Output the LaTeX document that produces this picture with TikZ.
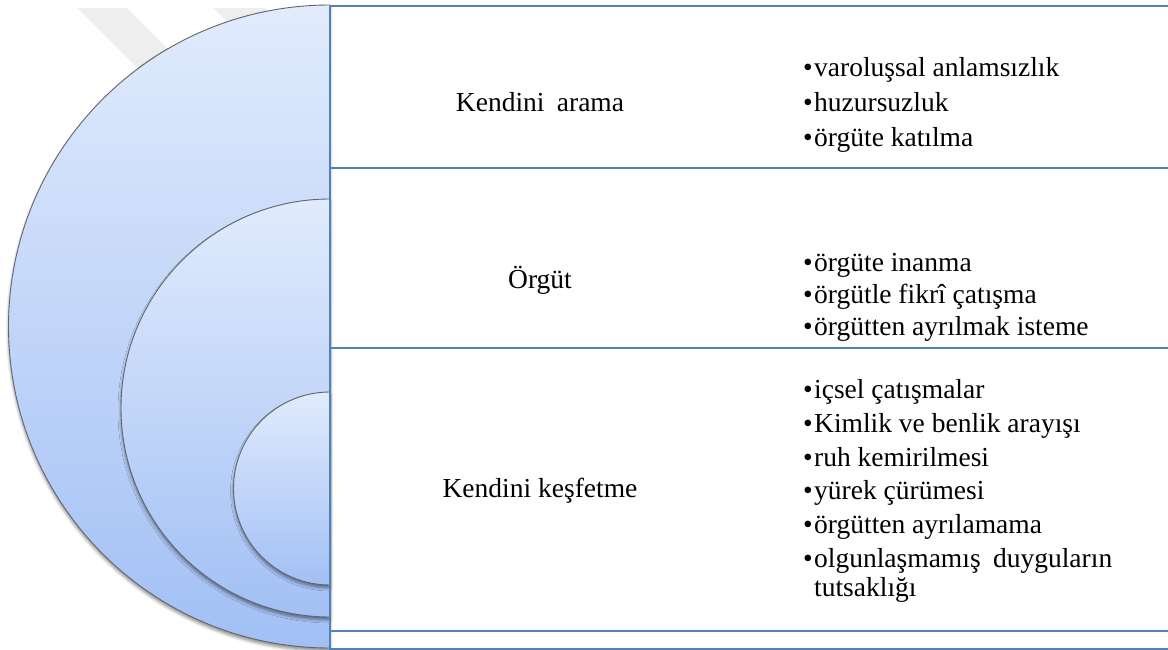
\documentclass[tikz,border=0pt]{standalone}
\usepackage{fontspec}
\setmainfont{Liberation Serif}
\usetikzlibrary{shadows.blur}

\definecolor{frameblue}{RGB}{79,129,189}
\definecolor{ringtop}{RGB}{225,235,252}
\definecolor{ringbot}{RGB}{162,192,245}
\definecolor{ringedge}{RGB}{100,100,105}
\definecolor{markgray}{RGB}{238,238,238}

\newcommand\blt{\makebox[11pt][l]{•}}

\begin{document}
\begin{tikzpicture}[x=1pt,y=-1pt,
  ring/.style={top color=ringtop, bottom color=ringbot, draw=ringedge, line width=0.9pt,
    blur shadow={shadow xshift=0pt, shadow yshift=-3pt, shadow blur radius=3pt, shadow opacity=45}},
  rule/.style={draw=frameblue, line width=1.6pt},
  title/.style={font=\fontsize{27.5}{33}\selectfont, inner sep=0pt, anchor=base},
  item/.style={font=\fontsize{27.5}{33}\selectfont, inner sep=0pt, anchor=base west},
]
\useasboundingbox (0,0) rectangle (1168,650);

% faint background marks
\fill[markgray] (77,8) -- (127,8) -- (230,111) -- (180,111) -- cycle;
\fill[markgray] (213,8) -- (265,8) -- (330,73) -- (278,73) -- cycle;

% nested half discs
\path[ring] (330,5) arc[start angle=90, end angle=270, radius=321.5pt] -- cycle;
\path[ring] (330,199) arc[start angle=90, end angle=270, radius=209pt] -- cycle;
\path[ring] (330,392) arc[start angle=90, end angle=270, radius=96.5pt] -- cycle;

% table rules
\draw[rule] (330,6) -- (330,650);
\draw[rule] (330,6) -- (1168,6);
\draw[rule] (330,168) -- (1168,168);
\draw[rule] (330,348) -- (1168,348);
\draw[rule] (330,631) -- (1168,631);
\draw[rule] (330,649) -- (1168,649);

% row titles
\node[title] (t1) at (540,112) {Kendini\hspace{0.45em}arama};
\node[title] (t2) at (540,288) {Örgüt};
\node[title] (t3) at (540,497) {Kendini keşfetme};

% first row items
\node[item] (a1) at (803,77) {\blt varoluşsal anlamsızlık};
\node[item] (a2) at (803,112) {\blt huzursuzluk};
\node[item] (a3) at (803,147) {\blt örgüte katılma};

% second row items
\node[item] (b1) at (803,271) {\blt örgüte inanma};
\node[item] (b2) at (803,303) {\blt örgütle fikrî çatışma};
\node[item] (b3) at (803,335) {\blt örgütten ayrılmak isteme};

% third row items
\node[item] (c1) at (803,398) {\blt içsel çatışmalar};
\node[item] (c2) at (803,432) {\blt Kimlik ve benlik arayışı};
\node[item] (c3) at (803,466) {\blt ruh kemirilmesi};
\node[item] (c4) at (803,499) {\blt yürek çürümesi};
\node[item] (c5) at (803,533) {\blt örgütten ayrılamama};
\node[item] (c6) at (803,567) {\blt olgunlaşmamış\hspace{0.45em}duyguların};
\node[item] (c7) at (814,596) {tutsaklığı};
\end{tikzpicture}
\end{document}
